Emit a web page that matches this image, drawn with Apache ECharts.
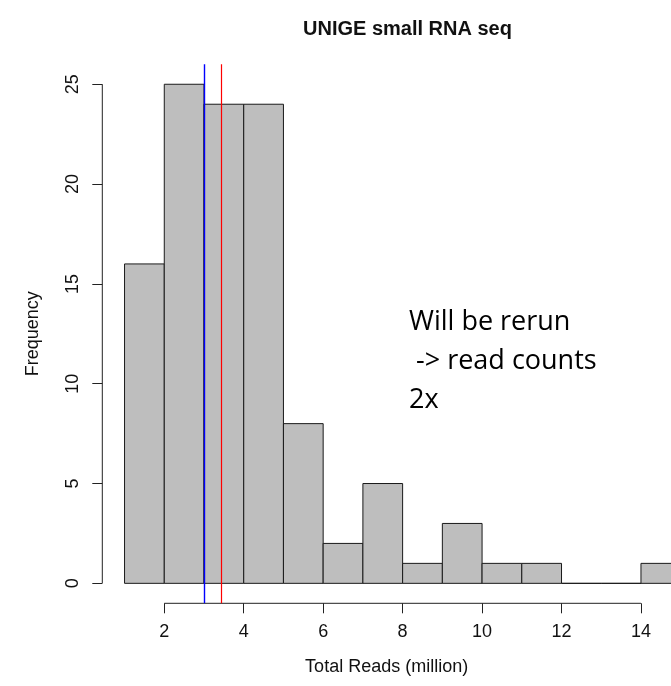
<!DOCTYPE html>
<html>
<head>
  <meta charset="utf-8">
  <title>UNIGE small RNA seq</title>
  <script src="https://cdn.jsdelivr.net/npm/echarts@6/dist/echarts.min.js"></script>
  <style>
    html, body { margin: 0; padding: 0; background: #fff; }
    #chart { width: 671px; height: 686px; }
  </style>
</head>
<body>
<div id="chart"></div>
<script>
  // histogram bins (million reads) and counts
  var binStart = [1, 2, 3, 4, 5, 6, 7, 8, 9, 10, 11, 12, 13, 14];
  var binEnd = [2, 3, 4, 5, 6, 7, 8, 9, 10, 11, 12, 13, 14, 15];
  var counts = [16, 25, 24, 24, 8, 2, 5, 1, 3, 1, 1, 0, 0, 1];
  var xTicks = [2, 4, 6, 8, 10, 12, 14];
  var yTicks = [0, 5, 10, 15, 20, 25];
  var medianReads = 3.0;
  var meanReads = 3.435;
  var noteLines = ['Will be rerun', ' -> read counts', '2x'];

  // plot region is cut on the right side of the picture
  var xMin = 0.44, xMax = 14.756;
  var yMin = -1, yMax = 26;
  var axisColor = '#222';
  var baseFont = '"Liberation Sans", Arial, sans-serif';

  var chart = echarts.init(document.getElementById('chart'));

  var bars = binStart.map(function (s, i) {
    return [s, binEnd[i], counts[i]];
  });

  var option = {
    animation: false,
    title: {
      text: 'UNIGE small RNA seq',
      left: 298,
      top: 14,
      textStyle: { fontFamily: baseFont, fontSize: 20, fontWeight: 'bold', color: '#111' }
    },
    grid: { left: 102.3, right: 0, top: 64.3, bottom: 82.7, containLabel: false },
    xAxis: {
      type: 'value',
      min: xMin,
      max: xMax,
      axisLine: { show: false, onZero: false },
      splitLine: { show: false },
      axisTick: { show: true, length: 10, customValues: xTicks, lineStyle: { color: axisColor } },
      axisLabel: { customValues: xTicks, margin: 20, fontSize: 18, fontFamily: baseFont, color: '#111' },
      name: 'Total Reads (million)',
      nameLocation: 'middle',
      nameGap: 55,
      nameTextStyle: { fontSize: 18, fontFamily: baseFont, color: '#111' }
    },
    yAxis: {
      type: 'value',
      min: yMin,
      max: yMax,
      axisLine: { show: false, onZero: false },
      splitLine: { show: false },
      axisTick: { show: true, length: 10, customValues: yTicks, lineStyle: { color: axisColor } },
      axisLabel: { customValues: yTicks, rotate: 90, margin: 20, fontSize: 18, fontFamily: baseFont, color: '#111' },
      name: 'Frequency',
      nameLocation: 'middle',
      nameGap: 60,
      nameTextStyle: { fontSize: 18, fontFamily: baseFont, color: '#111' }
    },
    graphic: [{
      type: 'text',
      left: 409,
      top: 303,
      style: {
        text: noteLines.join('\n'),
        font: '27px "Open Sans", sans-serif',
        lineHeight: 39,
        fill: '#000'
      }
    }],
    series: [
      {
        type: 'custom',
        name: 'hist',
        data: bars,
        renderItem: function (params, api) {
          var p0 = api.coord([api.value(0), 0]);
          var p1 = api.coord([api.value(1), api.value(2)]);
          var rect = echarts.graphic.clipRectByRect(
            { x: p0[0], y: p1[1], width: p1[0] - p0[0], height: p0[1] - p1[1] },
            { x: params.coordSys.x, y: params.coordSys.y, width: params.coordSys.width + 2, height: params.coordSys.height }
          );
          if (!rect) return;
          return {
            type: 'rect',
            shape: rect,
            style: { fill: '#bebebe', stroke: '#1a1a1a', lineWidth: 1 }
          };
        },
        markLine: {
          silent: true,
          symbol: ['none', 'none'],
          label: { show: false },
          data: [
            { xAxis: medianReads, lineStyle: { color: '#0000ff', width: 1.4, type: 'solid' } },
            { xAxis: meanReads, lineStyle: { color: '#ff0000', width: 1.2, type: 'solid' } }
          ]
        }
      },
      {
        // R style axis line: only from first to last tick
        type: 'line',
        silent: true,
        symbol: 'none',
        clip: false,
        data: [[xTicks[0], yMin], [xTicks[xTicks.length - 1], yMin]],
        lineStyle: { color: axisColor, width: 1 }
      },
      {
        type: 'line',
        silent: true,
        symbol: 'none',
        clip: false,
        data: [[xMin, yTicks[0]], [xMin, yTicks[yTicks.length - 1]]],
        lineStyle: { color: axisColor, width: 1 }
      }
    ]
  };

  chart.setOption(option);
</script>
</body>
</html>
